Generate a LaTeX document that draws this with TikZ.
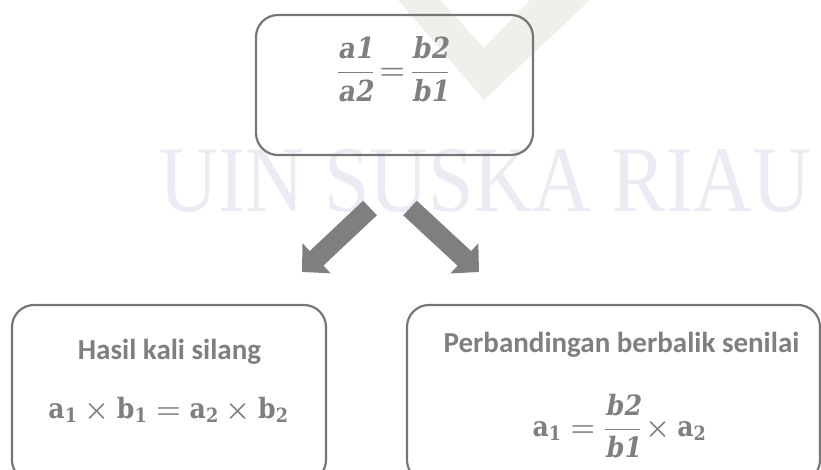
\RequirePackage{fix-cm}
\documentclass[tikz,border=0pt]{standalone}
\usepackage{amsmath}
\usepackage[no-math]{fontspec}
\newfontfamily\titlefont{Carlito}
\newfontfamily\wmfont{Liberation Serif}
\newfontfamily\cambfont{DejaVu Serif}[FakeStretch=0.9]
\newfontfamily\cambslant{DejaVu Serif}[FakeStretch=0.9,FakeSlant=0.18]
\usetikzlibrary{arrows.meta}
\definecolor{txtgray}{HTML}{7F7F7F}
\definecolor{linegray}{HTML}{767676}
\definecolor{arrowgray}{HTML}{7F7F7F}
\definecolor{wmtext}{RGB}{236,235,244}
\definecolor{wmv}{RGB}{238,240,235}
\newcommand\boldformula[1]{{\mathversion{bold}$#1$}}
\newcommand\cb[1]{\text{\cambfont\bfseries #1}}
\newcommand\cbs[1]{\text{\cambslant\bfseries #1}}
\begin{document}
\begin{tikzpicture}[x=1pt,y=-1pt,
  roundbox/.style={draw=linegray,line width=2.2pt,rounded corners=22pt,inner sep=0pt},
  title/.style={text=txtgray,font=\titlefont\bfseries\fontsize{29}{29}\selectfont,inner sep=0pt,anchor=base},
  formula/.style={text=txtgray,font=\fontsize{28}{28}\selectfont,inner sep=0pt,anchor=base},
  blockarrow/.style={draw=arrowgray,line width=20pt,-{Triangle[length=20pt,width=40pt]}},
]
\useasboundingbox (0,0) rectangle (821,470);
\clip (0,0) rectangle (821,470);
% watermark
\fill[wmv,even odd rule] (398,0)--(484,100)--(590,0)--cycle (440,0)--(484,48)--(530,0)--cycle;
\node[anchor=base west,inner sep=0pt,text=wmtext,font=\wmfont\fontsize{94}{94}\selectfont] (wm) at (159,212) {\scalebox{0.867}[1]{UIN SUSKA RIAU}};
% boxes
\node[roundbox,minimum width=277pt,minimum height=140pt] (top) at (394.5,85) {};
\node[roundbox,minimum width=314pt,minimum height=177pt] (lbox) at (169,393.5) {};
\node[roundbox,minimum width=413pt,minimum height=177pt] (rbox) at (613.5,393.5) {};
% texts
\node[formula,font=\fontsize{29}{29}\selectfont] (tform) at (393,80) {\boldformula{\displaystyle\frac{\cbs{a1}}{\cbs{a2}}\mkern-2mu=\mkern-2mu\frac{\cbs{b2}}{\cbs{b1}}}};
\node[title] (ltitle) at (169.5,359) {Hasil kali silang};
\node[formula] (lform) at (168.5,418) {\boldformula{\cb{a}_{\cb{1}}\times\cb{b}_{\cb{1}}=\cb{a}_{\cb{2}}\times\cb{b}_{\cb{2}}}};
\node[title] (rtitle) at (621.5,352) {Perbandingan berbalik senilai};
\node[formula] (rform) at (619.5,436) {\boldformula{\cb{a}_{\cb{1}}=\displaystyle\frac{\cbs{b2}}{\cbs{b1}}\mkern-2mu\times\cb{a}_{\cb{2}}}};
% arrows
\coordinate (la1) at (370,208);
\coordinate (la2) at (302,272);
\coordinate (ra1) at (410,208);
\coordinate (ra2) at (479,272);
\draw[blockarrow] (la1) -- (la2);
\draw[blockarrow] (ra1) -- (ra2);
\end{tikzpicture}
\end{document}
